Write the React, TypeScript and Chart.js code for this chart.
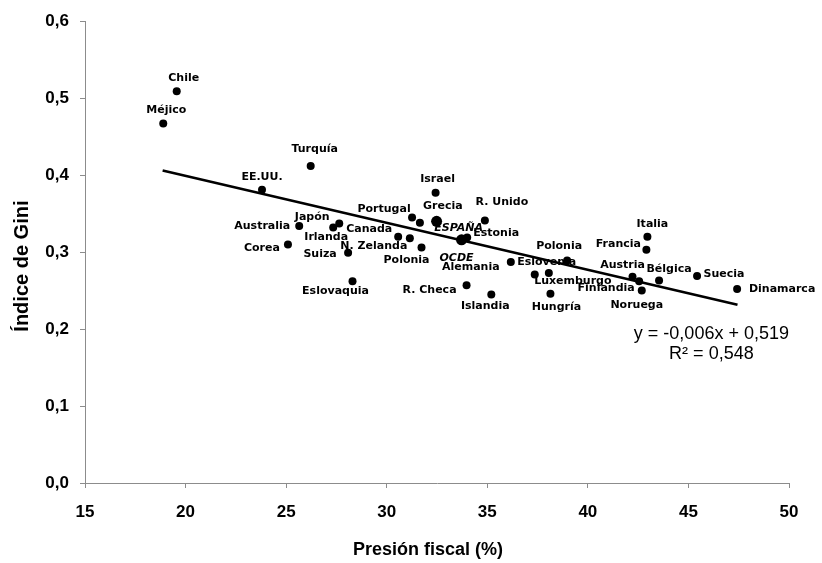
import React, { useEffect, useRef } from 'react';
import { Chart, registerables } from 'chart.js';

Chart.register(...registerables);

// ---------- data ----------
const countries = [
  'Chile', 'Méjico', 'Turquía', 'EE.UU.', 'Australia', 'Corea', 'Irlanda', 'Japón',
  'Suiza', 'Eslovaquia', 'Canada', 'N. Zelanda', 'Polonia', 'Portugal', 'Grecia',
  'ESPAÑA', 'Israel', 'R. Unido', 'OCDE', 'Estonia', 'R. Checa', 'Islandia',
  'Alemania', 'Eslovenia', 'Luxemburgo', 'Polonia', 'Hungría', 'Italia', 'Francia',
  'Austria', 'Finlandia', 'Noruega', 'Bélgica', 'Suecia', 'Dinamarca',
];
const presionFiscal = [
  19.56, 18.89, 26.22, 23.8, 25.65, 25.09, 27.34, 27.64,
  28.08, 28.3, 30.57, 31.15, 31.73, 31.26, 31.65,
  32.48, 32.43, 34.88, 33.72, 34.0, 33.97, 35.2,
  36.17, 37.36, 38.06, 38.97, 38.14, 42.96, 42.91,
  42.22, 42.55, 42.68, 43.54, 45.43, 47.42,
];
const gini = [
  0.509, 0.467, 0.412, 0.381, 0.334, 0.31, 0.332, 0.337,
  0.299, 0.262, 0.32, 0.318, 0.306, 0.345, 0.338,
  0.34, 0.377, 0.341, 0.316, 0.319, 0.257, 0.245,
  0.287, 0.271, 0.273, 0.289, 0.246, 0.32, 0.303,
  0.268, 0.262, 0.25, 0.263, 0.269, 0.252,
];
const highlighted = ['ESPAÑA', 'OCDE'];
const trendX = [18.86, 47.44];
const trendY = [0.406, 0.2315];
const equationLines = ['y = -0,006x + 0,519', 'R² = 0,548'];
const xTitle = 'Presión fiscal (%)';
const yTitle = 'Índice de Gini';

// ---------- label placement (layout, px offsets from each point) ----------
const labelOffsets: [number, number][] = [
  [7, -13], [3, -13], [4, -17], [0, -13], [-37, 0], [-26, 4], [-7, 10], [-27, -6],
  [-28, 1], [-17, 10], [-29, -8], [-36, 8], [-15, 13], [-28, -8], [23, -17],
  [22, 7], [2, -14], [17, -18], [-5, 18], [29, -4], [-37, 5], [-6, 12],
  [-40, 5], [12, -12], [24, 8], [-8, -14], [6, 13], [5, -13], [-28, -6],
  [-10, -12], [-33, 7], [-5, 15], [10, -11], [27, -2], [45, 0],
];

const TICK_FONT = { family: '"Liberation Sans", Arial, sans-serif', size: 17, weight: 'bold' as const };
const AXIS_GREY = '#8c8c8c';

const overlayPlugin = {
  id: 'overlay',
  beforeDatasetsDraw(chart: any) {
    const ctx = chart.ctx;
    const meta = chart.getDatasetMeta(1);
    ctx.save();
    ctx.fillStyle = '#000';
    ctx.textAlign = 'center';
    ctx.textBaseline = 'middle';
    meta.data.forEach((el: any, i: number) => {
      const name = countries[i];
      const it = highlighted.includes(name);
      ctx.font = `${it ? 'italic ' : ''}bold 11px "DejaVu Sans", sans-serif`;
      const [dx, dy] = labelOffsets[i];
      ctx.fillText(name, el.x + dx, el.y + dy);
    });
    ctx.restore();
  },
  afterDraw(chart: any) {
    const ctx = chart.ctx;
    const area = chart.chartArea;
    ctx.save();
    ctx.fillStyle = '#000';
    // equation
    ctx.font = '18px "Liberation Sans", Arial, sans-serif';
    ctx.textAlign = 'center';
    ctx.textBaseline = 'alphabetic';
    ctx.fillText(equationLines[0], area.right - 77.6, area.top + 317.4);
    ctx.fillText(equationLines[1], area.right - 77.6, area.top + 337.4);
    // x title
    ctx.font = 'bold 18px "Liberation Sans", Arial, sans-serif';
    ctx.fillText(xTitle, (area.left + area.right) / 2 - 9, area.bottom + 72.4);
    // y title
    ctx.font = 'bold 20px "Liberation Sans", Arial, sans-serif';
    ctx.translate(area.left - 57, (area.top + area.bottom) / 2 + 14);
    ctx.rotate(-Math.PI / 2);
    ctx.fillText(yTitle, 0, 0);
    ctx.restore();
  },
};

export default function App() {
  const ref = useRef<HTMLCanvasElement | null>(null);

  useEffect(() => {
    if (!ref.current) return;
    const points = presionFiscal.map((x, i) => ({ x, y: gini[i] }));
    const trend = trendX.map((x, i) => ({ x, y: trendY[i] }));
    const chart = new Chart(ref.current, {
      type: 'scatter',
      data: {
        datasets: [
          {
            label: 'Tendencia',
            data: trend,
            showLine: true,
            borderColor: '#000',
            borderWidth: 2.5,
            pointRadius: 0,
            fill: false,
          } as any,
          {
            label: 'Países',
            data: points,
            backgroundColor: '#000',
            borderColor: '#000',
            borderWidth: 0,
            pointRadius: countries.map((c) => (highlighted.includes(c) ? 5.5 : 4)),
            pointHoverRadius: 4,
          },
        ],
      },
      options: {
        responsive: false,
        animation: false,
        devicePixelRatio: 1,
        layout: { padding: { top: 19, right: 33, left: 0, bottom: 0 } },
        plugins: {
          legend: { display: false },
          tooltip: { enabled: false },
        },
        scales: {
          x: {
            type: 'linear',
            min: 15,
            max: 50,
            ticks: {
              stepSize: 5,
              color: '#000',
              font: TICK_FONT,
              padding: 14,
              maxRotation: 0,
            },
            grid: { drawOnChartArea: false, drawTicks: true, tickLength: 5, color: AXIS_GREY },
            border: { display: true, color: AXIS_GREY, width: 1 },
            afterFit: (s: any) => { s.height = 80; },
          },
          y: {
            type: 'linear',
            min: 0,
            max: 0.6,
            ticks: {
              stepSize: 0.1,
              color: '#000',
              font: TICK_FONT,
              padding: 11,
              callback: (v: any) => Number(v).toFixed(1).replace('.', ','),
            },
            grid: { drawOnChartArea: false, drawTicks: true, tickLength: 5, color: AXIS_GREY },
            border: { display: true, color: AXIS_GREY, width: 1 },
            afterFit: (s: any) => { s.width = 85; },
          },
        },
      },
      plugins: [overlayPlugin],
    });
    return () => chart.destroy();
  }, []);

  return (
    <div style={{ position: 'fixed', left: 0, top: 0, width: 822, height: 563, background: '#fff' }}>
      <canvas ref={ref} width={822} height={563} />
    </div>
  );
}
